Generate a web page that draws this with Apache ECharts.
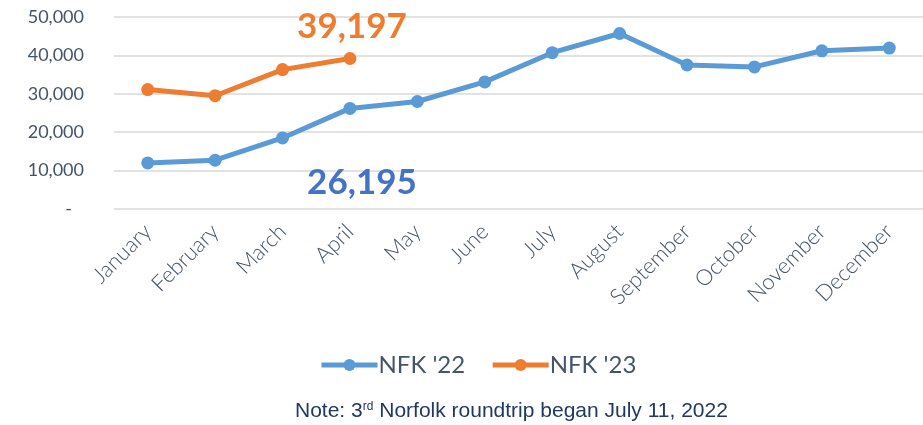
<!DOCTYPE html>
<html>
<head>
<meta charset="utf-8">
<script src="https://cdn.jsdelivr.net/npm/echarts@6/dist/echarts.min.js"></script>
<style>
  html, body { margin: 0; padding: 0; background: #fff; }
  #chart { width: 923px; height: 425px; }
</style>
</head>
<body>
<div id="chart"></div>
<script>
// data
var months = ['January', 'February', 'March', 'April', 'May', 'June', 'July',
  'August', 'September', 'October', 'November', 'December'];
var nfk22 = [12000, 12700, 18500, 26195, 28000, 33100, 40700, 45700, 37500, 37000, 41200, 41900];
var nfk23 = [31100, 29500, 36300, 39197];
var yTicks = [0, 10000, 20000, 30000, 40000, 50000];
var calloutIndex = 3; // April

var axisText = '#44546A';

function fmt(v) {
  return v === 0 ? '-' : v.toLocaleString('en-US');
}

// put a big callout on the April point
function withCallout(values, color, pos, offset) {
  return values.map(function (v, i) {
    if (i !== calloutIndex) return v;
    return {
      value: v,
      label: {
        show: true,
        position: pos,
        offset: offset,
        formatter: function (p) { return fmt(p.value); },
        color: color,
        fontFamily: 'Lato',
        fontWeight: 'bold',
        fontSize: 35
      }
    };
  });
}

var chart = echarts.init(document.getElementById('chart'));
var option = {
  animation: false,
  grid: { left: 114, right: -11, top: 17, bottom: 216 },
  title: {
    text: 'Note: 3{sup|rd} Norfolk roundtrip began July 11, 2022',
    left: 290,
    bottom: -2,
    textStyle: {
      color: '#1F3864',
      fontFamily: 'Liberation Sans',
      fontWeight: 'normal',
      fontSize: 21,
      rich: {
        sup: { fontSize: 12, color: '#1F3864', fontFamily: 'Liberation Sans', verticalAlign: 'top', padding: [0, 0, 10, 0] }
      }
    }
  },
  legend: {
    bottom: 43,
    left: 314,
    itemWidth: 56,
    itemHeight: 15,
    itemGap: 25,
    lineStyle: { width: 5 },
    textStyle: { color: axisText, fontSize: 24, fontFamily: 'Lato', padding: [0, 0, 0, -4] },
    data: ["NFK '22", "NFK '23"]
  },
  xAxis: {
    type: 'category',
    data: months,
    axisLine: { show: false },
    axisTick: { show: false },
    axisLabel: {
      rotate: 45,
      margin: 19,
      color: axisText,
      fontFamily: 'Lato',
      fontWeight: 300,
      fontSize: 22
    }
  },
  yAxis: {
    type: 'value',
    min: yTicks[0],
    max: yTicks[yTicks.length - 1],
    interval: 10000,
    axisLine: { show: false },
    axisTick: { show: false },
    splitLine: { lineStyle: { color: '#D9D9D9', width: 1.5 } },
    axisLabel: {
      margin: 30,
      color: axisText,
      fontFamily: 'Lato',
      fontSize: 18,
      formatter: function (v) { return v === 0 ? '{dash|-}' : fmt(v); },
      rich: {
        dash: { color: axisText, fontFamily: 'Lato', fontSize: 18, padding: [0, 12, 0, 0] }
      }
    }
  },
  series: [
    {
      name: "NFK '22",
      type: 'line',
      data: withCallout(nfk22, '#4472C4', 'bottom', [12, 45]),
      symbol: 'circle',
      symbolSize: 13,
      lineStyle: { width: 5, color: '#5B9BD5' },
      itemStyle: { color: '#5B9BD5' },
      z: 2
    },
    {
      name: "NFK '23",
      type: 'line',
      data: withCallout(nfk23, '#ED7D31', 'top', [2, -3]),
      symbol: 'circle',
      symbolSize: 13,
      lineStyle: { width: 5, color: '#ED7D31' },
      itemStyle: { color: '#ED7D31' },
      z: 3
    }
  ]
};
chart.setOption(option);
</script>
</body>
</html>
